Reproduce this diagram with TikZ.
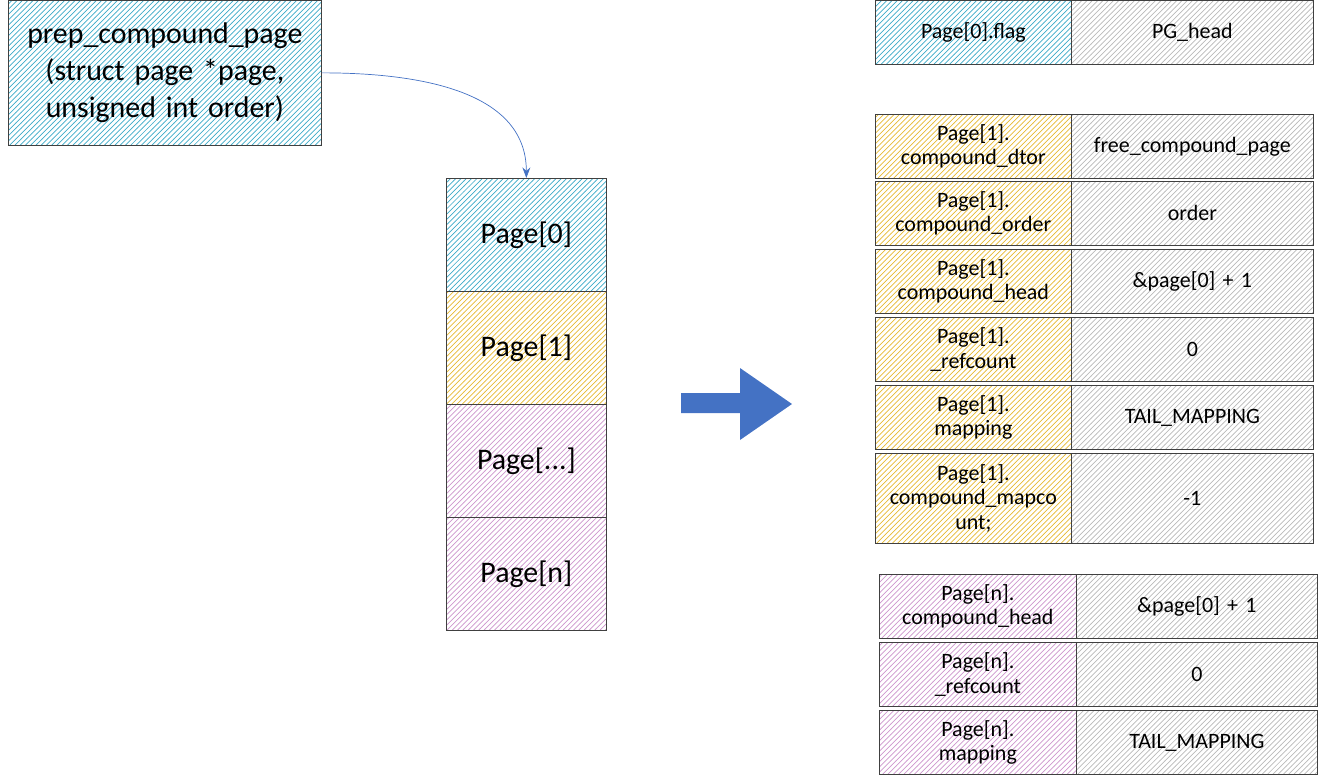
\documentclass[tikz,border=0pt]{standalone}
\usepackage{fontspec}
\setmainfont{Carlito}
\usetikzlibrary{patterns,arrows.meta}
\definecolor{hcyan}{RGB}{60,170,200}
\definecolor{hyellow}{RGB}{230,185,50}
\definecolor{hpink}{RGB}{205,150,205}
\definecolor{hgrey}{RGB}{185,185,185}
\definecolor{arrowblue}{RGB}{68,114,196}
\tikzset{
  cell/.style={draw=black!75, anchor=north west, inner sep=1pt, align=center,
    font=\fontsize{12.5}{14}\selectfont},
  big/.style={font=\fontsize{17}{21}\selectfont}
}
% name, x, y, width, height, hatch colour, text
\newcommand{\cell}[8][]{%
  \node[cell, #1, minimum width={#5*0.02cm}, minimum height={#6*0.02cm},
        text width={(#5-6)*0.02cm}, pattern=north east lines, pattern color=#7]
    (#2) at (#3,#4) {#8};}
\begin{document}
\begin{tikzpicture}[x=0.02cm,y=-0.02cm]
    \useasboundingbox (0,0) rectangle (1319,782);
    % function box
    \cell[big]{prep}{8}{0}{313}{145}{hcyan}{prep\_compound\_page\\(struct page *page,\\unsigned int order)}
    % the page array
    \cell[big]{p0}{446}{178}{160}{113}{hcyan}{Page[0]}
    \cell[big]{p1}{446}{291}{160}{113}{hyellow}{Page[1]}
    \cell[big]{pd}{446}{404}{160}{113}{hpink}{Page[...]}
    \cell[big]{pn}{446}{517}{160}{113}{hpink}{Page[n]}
    \draw[arrowblue, -{Stealth[length=6pt]}] (prep.east) to[out=0, in=90] (p0.north);
    % big arrow
    \fill[arrowblue] (681,393) -- (740,393) -- (740,368) -- (792,404) -- (740,440)
        -- (740,413) -- (681,413) -- cycle;
    % head page
    \cell{h0l}{875}{0}{196}{64}{hcyan}{Page[0].flag}
    \cell{h0r}{1071}{0}{242}{64}{hgrey}{PG\_head}
    % first tail page
    \foreach \y/\h/\l/\r [count=\i] in {
        114/64/{Page[1].\\compound\_dtor}/free\_compound\_page,
        181/64/{Page[1].\\compound\_order}/order,
        249/64/{Page[1].\\compound\_head}/\&page[0] + 1,
        317/64/{Page[1].\\\_refcount}/0,
        385/64/{Page[1].\\mapping}/TAIL\_MAPPING,
        453/90/{Page[1].\\compound\_mapco\\unt;}/-1} {
      \cell{t\i l}{875}{\y}{196}{\h}{hyellow}{\l}
      \cell{t\i r}{1071}{\y}{242}{\h}{hgrey}{\r}
    }
    % last tail page
    \foreach \y/\l/\r [count=\i] in {
        574/{Page[n].\\compound\_head}/\&page[0] + 1,
        642/{Page[n].\\\_refcount}/0,
        710/{Page[n].\\mapping}/TAIL\_MAPPING} {
      \cell{n\i l}{879}{\y}{197}{64}{hpink}{\l}
      \cell{n\i r}{1076}{\y}{241}{64}{hgrey}{\r}
    }
\end{tikzpicture}
\end{document}
